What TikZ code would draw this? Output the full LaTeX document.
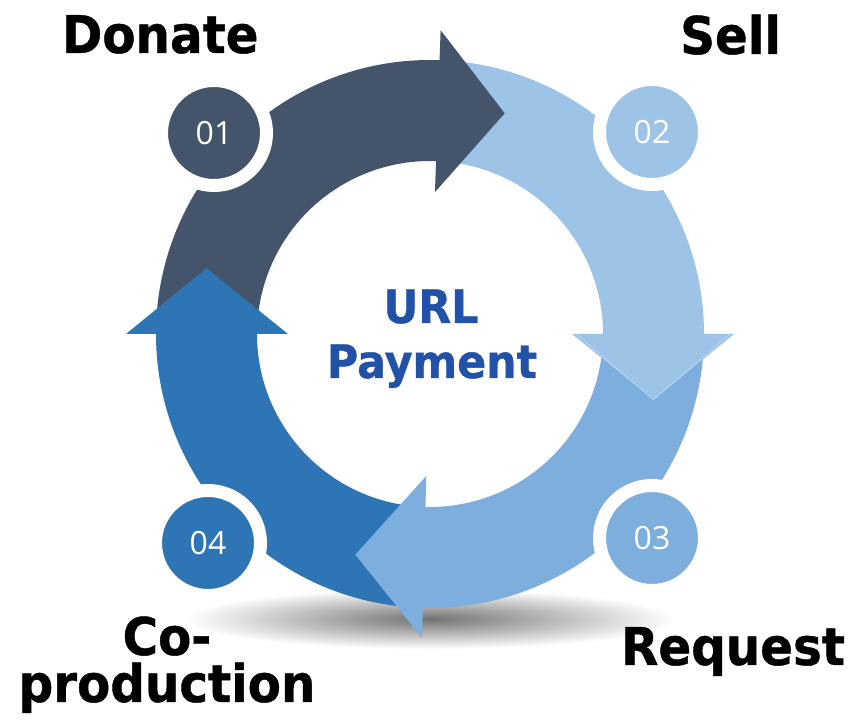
\documentclass[tikz,border=0pt]{standalone}
\usepackage{fontspec}
\newfontfamily\labfont{DejaVu Sans Bold}[FakeStretch=0.93,FakeBold=0.8]
\newfontfamily\numfont{Open Sans}
\definecolor{cdark}{HTML}{44546A}
\definecolor{clight}{HTML}{9DC3E6}
\definecolor{cmed}{HTML}{7DAEDD}
\definecolor{cblue}{HTML}{2E75B6}
\definecolor{ctext}{HTML}{2251A8}
\begin{document}
\begin{tikzpicture}[x=1pt,y=1pt,
  lab/.style={font=\labfont\fontsize{52}{58}\selectfont, inner sep=0pt, anchor=base west},
  mid/.style={font=\labfont\fontsize{46}{54}\selectfont, text=ctext, inner sep=0pt, anchor=base},
  badge/.style={circle, fill=#1, draw=white, line width=13pt, minimum size=105pt, inner sep=0pt, text=white, font=\numfont\fontsize{32}{38}\selectfont},
  band/.style={fill=#1},
  head/.style={fill=#1}]
\useasboundingbox (0,0) rectangle (849,725);
\fill[white] (0,0) rectangle (849,725);
% shadow
\shade[inner color=black!55, outer color=white] (430,106) ellipse [x radius=245, y radius=30];
\begin{scope}[shift={(430,391)}]
  % bodies
  \path[band=cdark] (176:274) arc[start angle=176,end angle=85,radius=274] -- (85:173) arc[start angle=85,end angle=176,radius=173] -- cycle;
  \path[band=clight] (84:274) arc[start angle=84,end angle=-3,radius=274] -- (-3:173) arc[start angle=-3,end angle=84,radius=173] -- cycle;
  \path[band=cmed] (-4:274) arc[start angle=-4,end angle=-94.5,radius=274] -- (-94.5:173) arc[start angle=-94.5,end angle=-4,radius=173] -- cycle;
  \path[band=cblue] (-96:274) arc[start angle=-96,end angle=-183,radius=274] -- (-183:173) arc[start angle=-183,end angle=-96,radius=173] -- cycle;
  % arrow heads
  \path[head=cdark] (88:142) -- (88:304) -- (71.3:233) -- cycle;
  \path[head=clight] (0:142) -- (0:304) -- (-16.4:233) -- cycle;
  \draw[clight!60!white, line width=0.5pt] (0:146) -- (-16.4:233) -- (0:300);
  \path[head=cmed] (-91.5:142) -- (-91.5:304) -- (-108.7:233) -- cycle;
  \path[head=cblue] (180:142) -- (180:304) -- (163.6:233) -- cycle;
\end{scope}
% badges
\node[badge=cdark] (b1) at (214,592) {01};
\node[badge=clight] (b2) at (652,593) {02};
\node[badge=cmed] (b3) at (652,187) {03};
\node[badge=cblue] (b4) at (208,182) {04};
% labels
\node[lab] (donate) at (62,672) {Donate};
\node[lab] (sell) at (680,671) {Sell};
\node[lab] (request) at (621,60) {Request};
\node[lab, anchor=base] (co) at (167,70) {Co-};
\node[lab, anchor=base] (prod) at (167,23) {production};
% centre
\node[mid] (url) at (431,402) {URL};
\node[mid] (pay) at (432,347) {Payment};
\end{tikzpicture}
\end{document}
